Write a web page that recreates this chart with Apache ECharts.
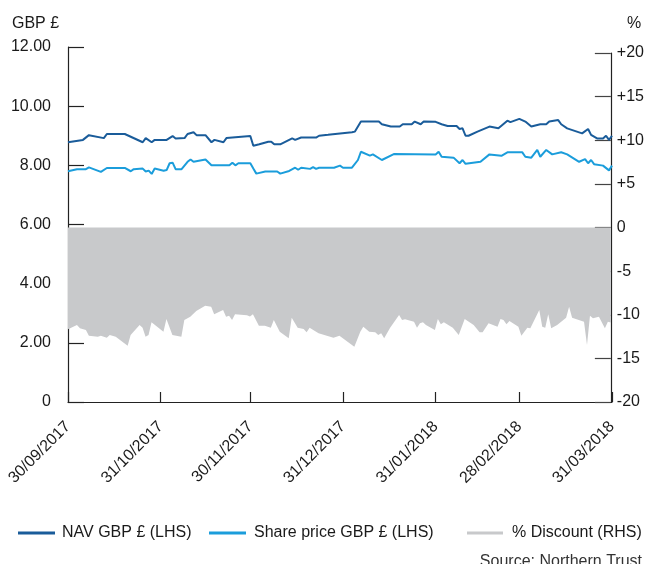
<!DOCTYPE html>
<html>
<head>
<meta charset="utf-8">
<script src="https://cdn.jsdelivr.net/npm/echarts@6/dist/echarts.min.js"></script>
<style>
html,body{margin:0;padding:0;background:#fff;}
#chart{width:647px;height:564px;}
</style>
</head>
<body>
<div id="chart"></div>
<script>
const tickDates = ['2017-09-30','2017-10-31','2017-11-30','2017-12-31','2018-01-31','2018-02-28','2018-03-31'];
const tickLabels = ['30/09/2017','31/10/2017','30/11/2017','31/12/2017','31/01/2018','28/02/2018','31/03/2018'];
const leftTicks = [0, 2, 4, 6, 8, 10, 12];
const rightTicks = [-20, -15, -10, -5, 0, 5, 10, 15, 20];

const navDates = ['2017-09-30','2017-10-05','2017-10-07','2017-10-12','2017-10-13','2017-10-19','2017-10-25','2017-10-26','2017-10-28','2017-10-29',
'2017-11-02','2017-11-04','2017-11-05','2017-11-08','2017-11-09','2017-11-11','2017-11-12','2017-11-15','2017-11-17','2017-11-18','2017-11-21','2017-11-22','2017-11-30',
'2017-12-01','2017-12-03','2017-12-06','2017-12-07','2017-12-08','2017-12-10','2017-12-14','2017-12-15','2017-12-17','2017-12-22','2017-12-23','2017-12-26',
'2018-01-03','2018-01-04','2018-01-06','2018-01-12','2018-01-13','2018-01-16','2018-01-19','2018-01-20','2018-01-23','2018-01-24','2018-01-26','2018-01-27','2018-01-31',
'2018-02-02','2018-02-04','2018-02-07','2018-02-08','2018-02-09','2018-02-10','2018-02-11','2018-02-14','2018-02-18','2018-02-21','2018-02-24','2018-02-25','2018-02-28',
'2018-03-02','2018-03-04','2018-03-07','2018-03-09','2018-03-10','2018-03-13','2018-03-14','2018-03-16','2018-03-21','2018-03-23','2018-03-24','2018-03-26','2018-03-28','2018-03-29','2018-03-30','2018-03-31'];
const navValues = [8.78,8.86,9.02,8.92,9.06,9.06,8.78,8.92,8.78,8.86,
8.86,8.99,8.91,8.92,9.06,9.12,9.02,9.02,8.78,8.86,8.78,8.92,8.99,
8.66,8.71,8.80,8.80,8.71,8.71,8.91,8.86,8.94,8.94,9.00,9.03,
9.12,9.14,9.48,9.48,9.39,9.31,9.31,9.39,9.39,9.48,9.39,9.48,9.47,
9.39,9.33,9.33,9.23,9.25,9.00,9.00,9.14,9.31,9.25,9.51,9.46,9.57,
9.48,9.31,9.39,9.39,9.48,9.53,9.39,9.25,9.08,9.23,9.03,8.91,8.91,9.00,8.86,9.00];

const priceDates = ['2017-09-30','2017-10-03','2017-10-06','2017-10-07','2017-10-11','2017-10-13','2017-10-19','2017-10-21','2017-10-22','2017-10-25','2017-10-26','2017-10-27','2017-10-28','2017-10-29',
'2017-11-01','2017-11-02','2017-11-03','2017-11-04','2017-11-05','2017-11-07','2017-11-09','2017-11-10','2017-11-11','2017-11-15','2017-11-17','2017-11-23','2017-11-24','2017-11-25','2017-11-26','2017-11-30',
'2017-12-01','2017-12-02','2017-12-05','2017-12-09','2017-12-10','2017-12-13','2017-12-15','2017-12-16','2017-12-17','2017-12-20','2017-12-21','2017-12-22','2017-12-23','2017-12-28','2017-12-30','2017-12-31',
'2018-01-03','2018-01-05','2018-01-06','2018-01-09','2018-01-10','2018-01-13','2018-01-17','2018-01-31',
'2018-02-01','2018-02-02','2018-02-06','2018-02-08','2018-02-09','2018-02-10','2018-02-15','2018-02-18','2018-02-22','2018-02-24',
'2018-03-01','2018-03-02','2018-03-04','2018-03-06','2018-03-07','2018-03-09','2018-03-11','2018-03-14','2018-03-16','2018-03-20','2018-03-22','2018-03-23','2018-03-24','2018-03-25','2018-03-28','2018-03-30','2018-03-31'];
const priceValues = [7.80,7.87,7.87,7.93,7.78,7.91,7.91,7.80,7.87,7.89,7.79,7.82,7.71,7.89,
7.82,7.84,8.07,8.09,7.87,7.87,8.12,8.20,8.12,8.20,8.00,8.00,8.09,8.00,8.07,8.07,
7.89,7.72,7.79,7.79,7.72,7.81,7.92,7.85,7.92,7.88,7.94,7.88,7.92,7.92,7.99,7.92,
7.92,8.18,8.46,8.33,8.37,8.18,8.38,8.37,
8.46,8.29,8.26,8.07,8.18,8.05,8.12,8.37,8.32,8.44,
8.44,8.29,8.26,8.52,8.29,8.52,8.37,8.44,8.37,8.12,8.21,8.07,8.18,8.04,7.99,7.83,7.99];

const discountDates = ['2017-09-30','2017-10-03','2017-10-04','2017-10-06','2017-10-07','2017-10-10','2017-10-11','2017-10-13','2017-10-14','2017-10-16','2017-10-17','2017-10-20','2017-10-21','2017-10-24','2017-10-25','2017-10-26','2017-10-27','2017-10-28',
'2017-11-01','2017-11-02','2017-11-04','2017-11-07','2017-11-08','2017-11-10','2017-11-12','2017-11-15','2017-11-17','2017-11-18','2017-11-21','2017-11-22','2017-11-23','2017-11-24','2017-11-25','2017-11-29','2017-11-30',
'2017-12-01','2017-12-03','2017-12-05','2017-12-07','2017-12-08','2017-12-10','2017-12-13','2017-12-14','2017-12-16','2017-12-18','2017-12-19','2017-12-20','2017-12-23','2017-12-28','2017-12-30',
'2018-01-04','2018-01-06','2018-01-07','2018-01-09','2018-01-11','2018-01-12','2018-01-13','2018-01-14','2018-01-16','2018-01-19','2018-01-20','2018-01-21','2018-01-24','2018-01-25','2018-01-26','2018-01-27','2018-01-28','2018-01-31',
'2018-02-01','2018-02-02','2018-02-03','2018-02-06','2018-02-08','2018-02-10','2018-02-13','2018-02-15','2018-02-16','2018-02-18','2018-02-21','2018-02-22','2018-02-23','2018-02-24','2018-02-25','2018-02-28',
'2018-03-01','2018-03-03','2018-03-04','2018-03-07','2018-03-08','2018-03-09','2018-03-10','2018-03-11','2018-03-13','2018-03-16','2018-03-17','2018-03-18','2018-03-22','2018-03-23','2018-03-24','2018-03-25','2018-03-27','2018-03-29','2018-03-30','2018-03-31'];
const discountValues = [-11.67,-11.17,-11.56,-11.75,-12.40,-12.51,-12.40,-12.63,-12.32,-12.51,-12.78,-13.55,-12.32,-11.17,-11.48,-12.51,-12.32,-10.87,
-11.94,-10.49,-12.32,-12.51,-10.60,-10.22,-9.57,-8.96,-9.08,-9.95,-9.46,-10.22,-10.11,-10.60,-9.95,-10.05,-10.20,
-9.95,-11.25,-11.25,-11.48,-10.60,-11.94,-12.70,-10.34,-11.48,-11.63,-12.01,-11.48,-12.13,-12.63,-12.40,
-13.66,-11.94,-11.37,-11.94,-12.01,-12.32,-12.13,-12.70,-11.48,-10.03,-10.60,-10.52,-10.80,-11.48,-10.98,-10.87,-11.17,-11.75,
-10.49,-11.10,-10.87,-11.48,-12.32,-10.49,-11.17,-12.01,-12.01,-10.98,-11.37,-10.49,-10.60,-11.10,-10.72,-11.37,
-12.40,-11.48,-11.56,-9.46,-11.37,-11.48,-9.95,-11.56,-11.17,-10.34,-9.08,-10.34,-10.80,-13.47,-10.11,-10.41,-10.22,-11.56,-10.80,-10.90];

const ts = d => Date.parse(d + 'T00:00:00Z');
const pairs = (ds, vs) => ds.map((d, i) => [ts(d), vs[i]]);
const tickTs = tickDates.map(ts);
const FONT = '"Liberation Sans", Arial, sans-serif';
const TXT = '#1a1a1a';
const AX = '#222';
const NAV_COLOR = '#1a5c9a';
const PRICE_COLOR = '#1b9ddb';
const GREY = '#c8c9cb';

const xBase = {
  type: 'value',
  min: tickTs[0],
  max: tickTs[tickTs.length - 1],
  splitLine: { show: false }
};

const legendText = { fontSize: 16, color: TXT, fontFamily: FONT };

const chart = echarts.init(document.getElementById('chart'), null, { renderer: 'canvas' });
chart.setOption({
  animation: false,
  backgroundColor: '#fff',
  textStyle: { fontFamily: FONT },
  title: [
    { text: 'GBP £', left: 12, top: 16, padding: 0, textStyle: { fontSize: 16, fontWeight: 'normal', color: TXT, fontFamily: FONT } },
    { text: '%', left: 627, top: 16, padding: 0, textStyle: { fontSize: 16, fontWeight: 'normal', color: TXT, fontFamily: FONT } },
    { text: 'Source: Northern Trust', right: 5, top: 554, padding: 0, textStyle: { fontSize: 16, fontWeight: 'normal', color: '#333', fontFamily: FONT } }
  ],
  legend: [
    { data: ['NAV GBP £ (LHS)'], left: 18, top: 525, padding: 0, icon: 'rect', itemWidth: 37, itemHeight: 3, textStyle: Object.assign({ padding: [0, 0, 0, 2] }, legendText) },
    { data: ['Share price GBP £ (LHS)'], left: 209, top: 525, padding: 0, icon: 'rect', itemWidth: 37, itemHeight: 3, textStyle: Object.assign({ padding: [0, 0, 0, 3] }, legendText) },
    { data: ['% Discount (RHS)'], left: 467, top: 525, padding: 0, icon: 'rect', itemWidth: 36, itemHeight: 3, textStyle: Object.assign({ padding: [0, 0, 0, 4] }, legendText) }
  ],
  grid: [
    { left: 68, right: 35, top: 47, bottom: 162, containLabel: false },
    { left: 68, right: 35, top: 53, bottom: 162, containLabel: false }
  ],
  xAxis: [
    Object.assign({}, xBase, {
      gridIndex: 0,
      axisLine: { show: true, lineStyle: { color: AX, width: 1.2 } },
      axisTick: { show: true, inside: true, length: 10, customValues: tickTs, lineStyle: { color: AX, width: 1.2 } },
      axisLabel: {
        show: true, customValues: tickTs, rotate: 45, margin: 22,
        fontSize: 16, color: TXT, fontFamily: FONT,
        formatter: v => { const i = tickTs.indexOf(v); return i >= 0 ? tickLabels[i] : ''; }
      }
    }),
    Object.assign({}, xBase, { gridIndex: 1, show: false })
  ],
  yAxis: [
    {
      type: 'value', gridIndex: 0, position: 'left', min: 0, max: 12, interval: 2,
      splitLine: { show: false },
      axisLine: { show: true, lineStyle: { color: AX, width: 1.2 } },
      axisTick: { show: true, inside: true, length: 16, customValues: leftTicks, lineStyle: { color: AX, width: 1.2 } },
      axisLabel: { customValues: leftTicks, margin: 17, fontSize: 16, color: TXT, fontFamily: FONT,
        formatter: v => v === 0 ? '0' : v.toFixed(2) }
    },
    {
      type: 'value', gridIndex: 1, position: 'right', min: -20, max: 20, interval: 5,
      splitLine: { show: false },
      axisLine: { show: true, lineStyle: { color: AX, width: 1.2 } },
      axisTick: { show: true, inside: true, length: 16, customValues: rightTicks, lineStyle: { color: '#444', width: 1.2 } },
      axisLabel: { customValues: rightTicks, margin: 6, fontSize: 16, color: TXT, fontFamily: FONT,
        formatter: v => v > 0 ? '+' + v : String(v) }
    }
  ],
  series: [
    {
      name: '% Discount (RHS)', type: 'line', xAxisIndex: 1, yAxisIndex: 1,
      data: pairs(discountDates, discountValues),
      showSymbol: false, symbol: 'none',
      itemStyle: { color: GREY },
      lineStyle: { width: 0, color: GREY },
      areaStyle: { color: GREY, opacity: 1, origin: 0 },
      z: 1
    },
    {
      name: 'NAV GBP £ (LHS)', type: 'line', xAxisIndex: 0, yAxisIndex: 0,
      data: pairs(navDates, navValues),
      showSymbol: false, symbol: 'none',
      itemStyle: { color: NAV_COLOR },
      lineStyle: { width: 2, color: NAV_COLOR },
      z: 3
    },
    {
      name: 'Share price GBP £ (LHS)', type: 'line', xAxisIndex: 0, yAxisIndex: 0,
      data: pairs(priceDates, priceValues),
      showSymbol: false, symbol: 'none',
      itemStyle: { color: PRICE_COLOR },
      lineStyle: { width: 2, color: PRICE_COLOR },
      z: 3
    }
  ]
});
</script>
</body>
</html>
